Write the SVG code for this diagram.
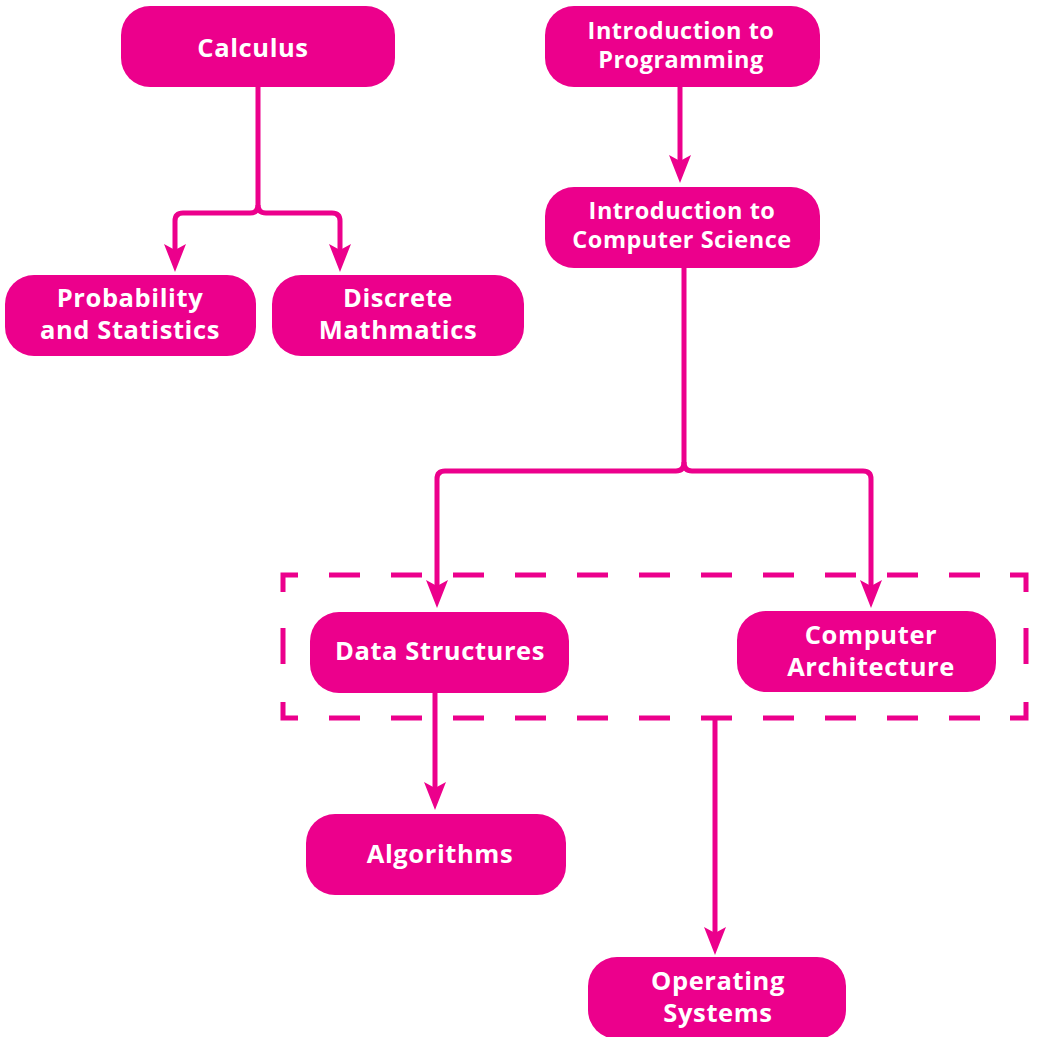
<svg xmlns="http://www.w3.org/2000/svg" width="1039" height="1037" viewBox="0 0 1039 1037">
<style>
.box{fill:#EC008C}
.lbl{fill:#fff;font-family:"Open Sans","Liberation Sans",sans-serif;font-weight:700;font-size:25.5px;letter-spacing:0.6px;text-anchor:middle}
.sm{font-size:23.5px;letter-spacing:0.5px}
.con{fill:none;stroke:#EC008C;stroke-width:5;marker-end:url(#ah)}
.frame{fill:none;stroke:#EC008C;stroke-width:5}
</style>
<defs>
<marker id="ah" markerUnits="userSpaceOnUse" markerWidth="30" markerHeight="22" viewBox="0 0 30 22" refX="8" refY="11" orient="auto">
<path d="M0,0 L28,11 L0,22 L6,11 Z" fill="#EC008C"/>
</marker>
</defs>
<rect width="1039" height="1037" fill="#fff"/>
<g id="group-frame" class="frame">
<path d="M283,592 V575 H298 M1010,575 H1026 V592 M283,702 V718 H298 M1010,718 H1026 V702 M283,628 V664 M1026,628 V664"/>
<path d="M329,575 H1010 M329,718 H1010" stroke-dasharray="31 31"/>
</g>
<g id="connectors">
<path class="con" d="M258,87 V205 Q258,213 250,213 H183 Q175,213 175,221 V252"/>
<path class="con" d="M258,205 Q258,213 266,213 H332 Q340,213 340,221 V252"/>
<path class="con" d="M680,86 V163"/>
<path class="con" d="M684,267 V462 Q684,471 676,471 H445 Q437,471 437,479 V588"/>
<path class="con" d="M684,462 Q684,471 692,471 H863 Q871,471 871,479 V588"/>
<path class="con" d="M435,692 V790"/>
<path class="con" d="M715,718 V935"/>
</g>
<g id="calculus"><rect class="box" x="121" y="6" width="274" height="81" rx="29"/><text class="lbl" x="253" y="57">Calculus</text></g>
<g id="probability"><rect class="box" x="5" y="275" width="251" height="81" rx="29"/><text class="lbl" x="130" y="307">Probability</text><text class="lbl" x="130" y="339">and Statistics</text></g>
<g id="discrete"><rect class="box" x="272" y="275" width="252" height="81" rx="29"/><text class="lbl" x="398" y="307">Discrete</text><text class="lbl" x="398" y="339">Mathmatics</text></g>
<g id="intro-programming"><rect class="box" x="545" y="6" width="275" height="81" rx="29"/><text class="lbl sm" x="681" y="39">Introduction to</text><text class="lbl sm" x="681" y="68">Programming</text></g>
<g id="intro-cs"><rect class="box" x="545" y="187" width="275" height="81" rx="29"/><text class="lbl sm" x="682" y="219">Introduction to</text><text class="lbl sm" x="682" y="248">Computer Science</text></g>
<g id="data-structures"><rect class="box" x="310" y="612" width="259" height="81" rx="29"/><text class="lbl" x="440" y="660">Data Structures</text></g>
<g id="computer-architecture"><rect class="box" x="737" y="611" width="259" height="81" rx="29"/><text class="lbl" x="871" y="644">Computer</text><text class="lbl" x="871" y="676">Architecture</text></g>
<g id="algorithms"><rect class="box" x="306" y="814" width="260" height="81" rx="29"/><text class="lbl" x="440" y="863">Algorithms</text></g>
<g id="operating-systems"><rect class="box" x="588" y="957" width="258" height="82" rx="29"/><text class="lbl" x="718" y="990">Operating</text><text class="lbl" x="718" y="1022">Systems</text></g>
</svg>
